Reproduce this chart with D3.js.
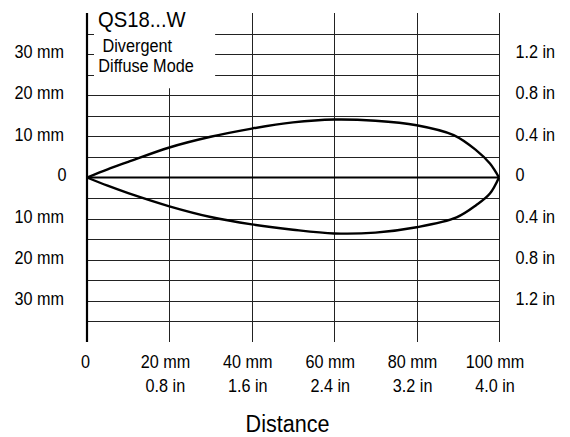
<!DOCTYPE html>
<html>
<head>
<meta charset="utf-8">
<script src="https://cdn.jsdelivr.net/npm/d3@7"></script>
<style>
  html, body { margin: 0; padding: 0; background: #fff; }
  svg { display: block; font-family: "Liberation Sans", Arial, sans-serif; }
</style>
</head>
<body>
<svg id="chart"></svg>
<script>
// beam pattern, distance in mm and lateral offset in mm
const upperX = [0, 5, 10, 20, 30, 40, 50, 60, 70, 80, 89, 94.5, 97.8, 100];
const upperY = [0, 2.0, 3.8, 7.3, 9.9, 11.9, 13.4, 14.1, 13.8, 12.7, 10.3, 6.6, 3.4, 0];
const lowerX = [0, 5, 10, 20, 30, 40, 50, 60, 70, 80, 89.7, 94.5, 97.8, 100];
const lowerY = [0, -2.0, -3.8, -7.0, -9.6, -11.4, -12.7, -13.6, -13.4, -12.1, -9.7, -6.7, -3.9, 0];

const xTicks = [0, 20, 40, 60, 80, 100];
const xMmLabels = ["0", "20 mm", "40 mm", "60 mm", "80 mm", "100 mm"];
const xInLabels = ["", "0.8 in", "1.6 in", "2.4 in", "3.2 in", "4.0 in"];

const yTicks = [30, 20, 10, 0, -10, -20, -30];
const yMmLabels = ["30 mm", "20 mm", "10 mm", "0", "10 mm", "20 mm", "30 mm"];
const yInLabels = ["1.2 in", "0.8 in", "0.4 in", "0", "0.4 in", "0.8 in", "1.2 in"];

const hGrid = [-35, -30, -25, -20, -15, -10, -5, 5, 10, 15, 20, 25, 30, 35];
const vGrid = [20, 40, 60, 80, 100];

const title = "QS18...W";
const subtitle = ["Divergent", "Diffuse Mode"];
const xTitle = "Distance";

const width = 570;
const height = 437;
const margin = { top: 13, left: 87, bottom: 95, right: 71 };

// label box in the top left corner (data units)
const boxRight = 31.1;
const boxBottom = 21.7;

const svg = d3.select("#chart")
  .attr("width", width)
  .attr("height", height);

const x = d3.scaleLinear()
  .domain([0, 100])
  .range([margin.left, width - margin.right]);

const y = d3.scaleLinear()
  .domain([-40, 40])
  .range([height - margin.bottom, margin.top]);

// text is a bit condensed in the original
function addText(parent, tx, ty, str, size, sx, anchor) {
  return parent.append("text")
    .attr("transform", `translate(${tx},${ty}) scale(${sx},1)`)
    .attr("text-anchor", anchor || "start")
    .style("font-size", size + "px")
    .text(str);
}

//horizontal grid
const grid = svg.append("g").attr("stroke", "#222").attr("stroke-width", 1);

hGrid.forEach(v => {
  const yy = Math.round(y(v)) + 0.5;
  if (v > boxBottom) {
    grid.append("line")
      .attr("x1", x(0)).attr("x2", x(0) + 7)
      .attr("y1", yy).attr("y2", yy);
    grid.append("line")
      .attr("x1", x(boxRight)).attr("x2", x(100))
      .attr("y1", yy).attr("y2", yy);
  } else {
    grid.append("line")
      .attr("x1", x(0)).attr("x2", x(100))
      .attr("y1", yy).attr("y2", yy);
  }
});

//vertical grid
vGrid.forEach(v => {
  const xx = Math.round(x(v)) + 0.5;
  grid.append("line")
    .attr("x1", xx).attr("x2", xx)
    .attr("y1", v < boxRight ? y(boxBottom) : y(40))
    .attr("y2", y(-40));
});

//zero line and left axis
svg.append("line")
  .attr("x1", x(0)).attr("x2", x(100))
  .attr("y1", y(0)).attr("y2", y(0))
  .attr("stroke", "#000")
  .attr("stroke-width", 2);

svg.append("line")
  .attr("x1", x(0)).attr("x2", x(0))
  .attr("y1", y(40)).attr("y2", y(-40))
  .attr("stroke", "#000")
  .attr("stroke-width", 2.2);

//beam curve
const line = d3.line()
  .x(d => x(d[0]))
  .y(d => y(d[1]))
  .curve(d3.curveCatmullRom.alpha(0.5));

const upper = upperX.map((v, i) => [v, upperY[i]]);
const lower = lowerX.map((v, i) => [v, lowerY[i]]);

[upper, lower].forEach(pts => {
  svg.append("path")
    .attr("d", line(pts))
    .attr("fill", "none")
    .attr("stroke", "#000")
    .attr("stroke-width", 2.4)
    .attr("stroke-linejoin", "round");
});

//left and right labels
const labels = svg.append("g");
yTicks.forEach((d, i) => {
  const zero = yMmLabels[i] === "0";
  addText(labels, x(0) - (zero ? 20.5 : 23), y(d) + (zero ? 3.4 : 4.2), yMmLabels[i], 18, 0.9, "end");
  addText(labels, x(100) + 16.5, y(d) + (zero ? 3.4 : 4.2), yInLabels[i], 18, 0.9);
});

//bottom labels
xTicks.forEach((d, i) => {
  const xx = x(d) - (d === 0 ? 1.5 : 4);
  addText(labels, xx, 368, xMmLabels[i], 18, 0.9, "middle");
  addText(labels, xx, 391.5, xInLabels[i], 18, 0.9, "middle");
});

addText(svg, (x(0) + x(100)) / 2 - 5.5, 431.5, xTitle, 24.5, 0.88, "middle");

//title box
addText(svg, 98, 26.7, title, 22.5, 0.9);
addText(svg, 102.5, 51.7, subtitle[0], 17.5, 0.93);
addText(svg, 98.3, 71.7, subtitle[1], 17.5, 0.93);
</script>
</body>
</html>
